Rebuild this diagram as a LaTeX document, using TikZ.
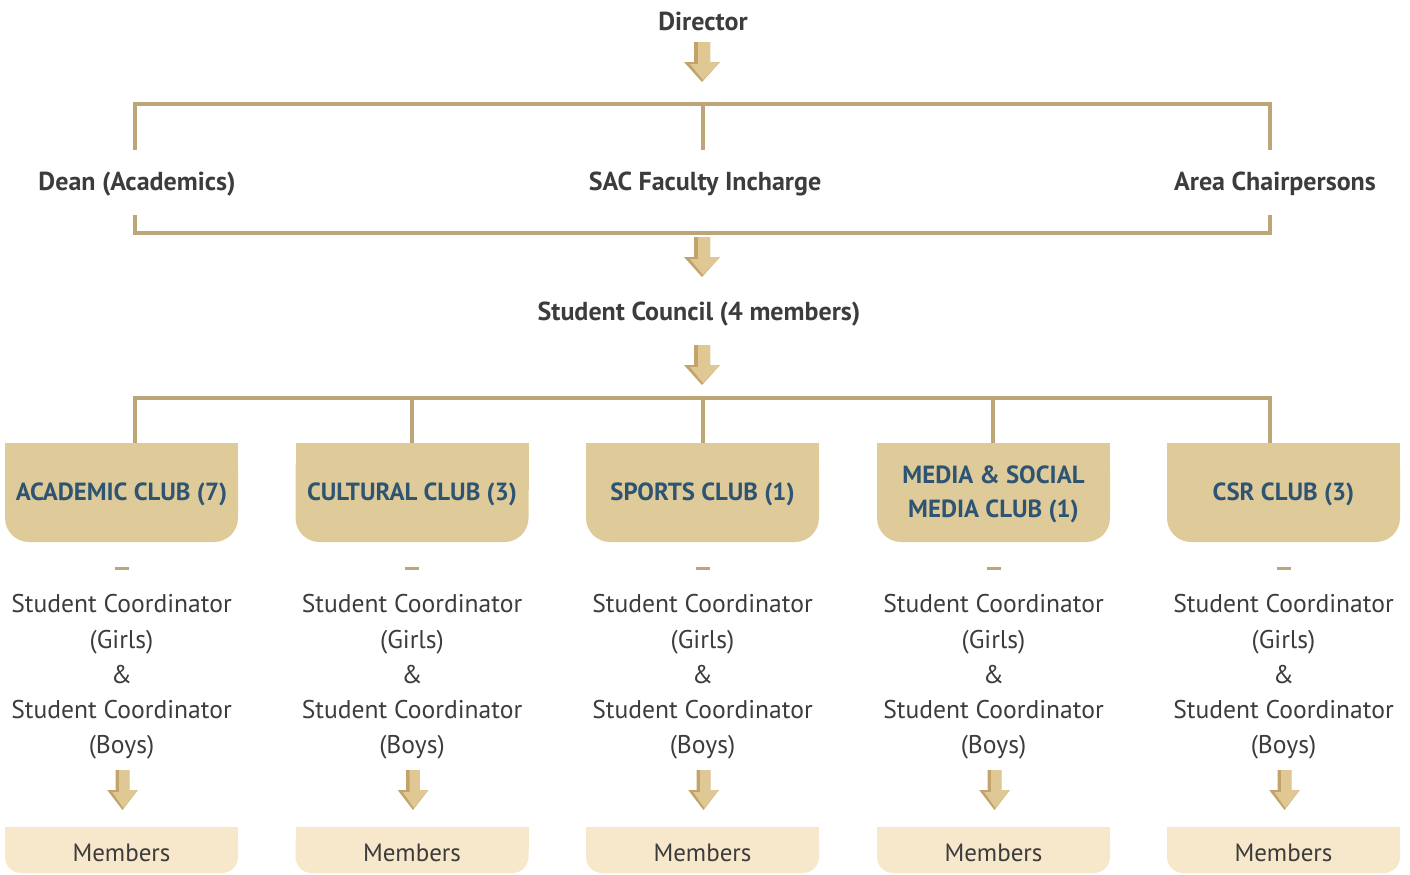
\documentclass[tikz,border=0pt]{standalone}
\usepackage{fontspec}
\setmainfont{PT Sans}
\usetikzlibrary{positioning}

\definecolor{tanline}{HTML}{BCA677}
\definecolor{clubfill}{HTML}{DFCA99}
\definecolor{memberfill}{HTML}{F7E8CB}
\definecolor{clubtext}{HTML}{2D5472}
\definecolor{bodytext}{HTML}{3C3C3C}
\definecolor{arrowdark}{HTML}{C2A36B}
\definecolor{arrowlight}{HTML}{DFC893}

\tikzset{
  blockarrow/.pic={
    \fill[arrowdark] (-8,0) -- (8,0) -- (8,20) -- (18,20) -- (0,40) -- (-18,20) -- (-8,20) -- cycle;
    \fill[arrowlight] (-4,0) -- (8,0) -- (8,20) -- (18,20) -- (1,38) -- (-12,22) -- (-4,22) -- cycle;
  }
}

\begin{document}
\begin{tikzpicture}[x=0.5pt, y=-0.5pt,
                    bracket/.style={draw=tanline, line width=2pt},
                    head node/.style={font=\bfseries\fontsize{13}{15}\selectfont, text=bodytext, inner sep=0pt},
                    club node/.style={font=\bfseries\fontsize{12.4}{17}\selectfont, text=clubtext, align=center, inner sep=0pt},
                    coord node/.style={font=\fontsize{12.8}{17.6}\selectfont, text=bodytext, align=center, inner sep=0pt},
                    member node/.style={font=\fontsize{12.5}{15}\selectfont, text=bodytext, inner sep=0pt}]

  \useasboundingbox (0,0) rectangle (1410,874);

  % top of the chart
  \node[head node] (director) at (703,21) {Director};
  \pic at (702,42) {blockarrow};

  \coordinate (topL) at (135,150);
  \coordinate (topM) at (703,150);
  \coordinate (topR) at (1270,150);
  \draw[bracket] (topL) |- (topR |- 0,104) -- (topR);
  \draw[bracket] (topM) -- (topM |- 0,104);

  \node[head node] (dean) at (137,184) {Dean (Academics)};
  \node[head node] (sac) at (705,184) {SAC Faculty Incharge};
  \node[head node] (area) at (1275,184) {Area Chairpersons};

  \coordinate (lowL) at (135,215);
  \coordinate (lowR) at (1270,215);
  \draw[bracket] (lowL) |- (lowR |- 0,233) -- (lowR);
  \pic at (702,237) {blockarrow};

  \node[head node] (council) at (699,314) {Student Council (4 members)};
  \pic at (702,345) {blockarrow};

  % clubs
  \draw[bracket] (135,443) |- (1270,398) -- (1270,443);
  \foreach \x in {412,703,993}
    \draw[bracket] (\x,398) -- (\x,443);

  \foreach \x/\name/\txt in {121.5/academic/{ACADEMIC CLUB (7)},
                             412/cultural/{CULTURAL CLUB (3)},
                             702.5/sports/{SPORTS CLUB (1)},
                             993.5/media/{MEDIA \& SOCIAL\\MEDIA CLUB (1)},
                             1283.5/csr/{CSR CLUB (3)}} {
    \fill[clubfill, rounded corners=12pt] (\x-116.5,443) rectangle (\x+116.5,542);
    \fill[clubfill] (\x-116.5,443) rectangle (\x+116.5,490);
    \node[club node] (\name) at (\x,494) {\txt};

    \draw[tanline, line width=1.5pt] (\x-7,568) -- (\x+7,568);
    \node[coord node] (coord-\name) at (\x,677)
      {Student Coordinator\\(Girls)\\\&\\Student Coordinator\\(Boys)};

    \pic[xscale=0.85] at (\x+1,770) {blockarrow};

    \fill[memberfill, rounded corners=8pt] (\x-116.5,827) rectangle (\x+116.5,873);
    \fill[memberfill] (\x-116.5,827) rectangle (\x+116.5,850);
    \node[member node] (members-\name) at (\x,853) {Members};
  }
\end{tikzpicture}
\end{document}
